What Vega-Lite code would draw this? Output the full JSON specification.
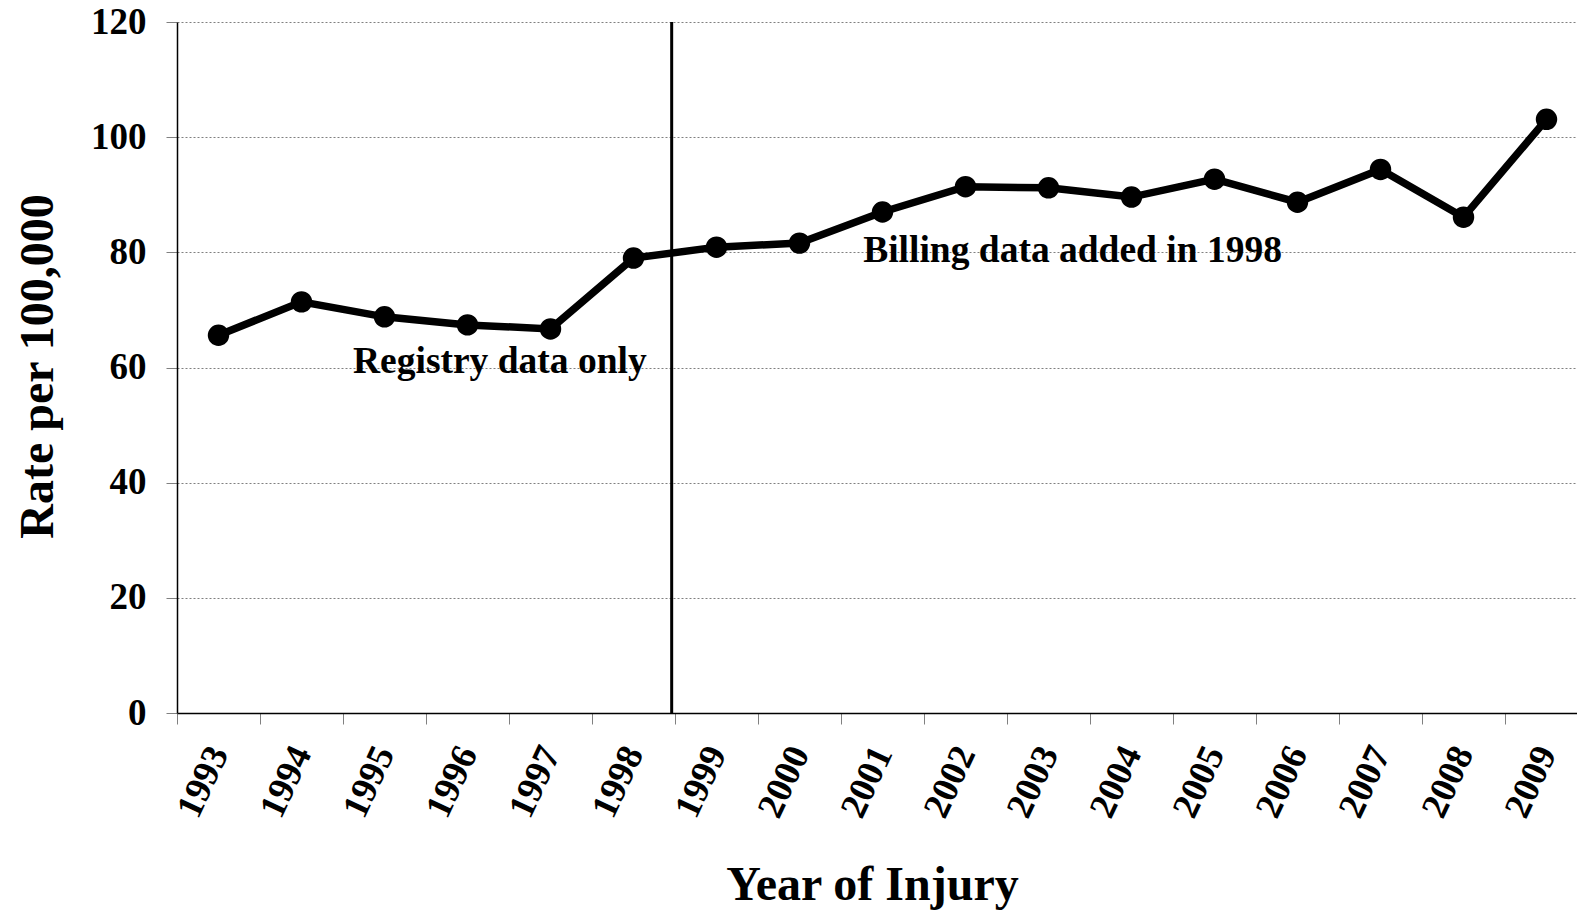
{
  "$schema": "https://vega.github.io/schema/vega-lite/v6.json",
  "width": 1400,
  "height": 691,
  "autosize": "none",
  "padding": {"left": 177, "top": 22, "right": 0, "bottom": 198},
  "background": "white",
  "config": {"view": {"stroke": null}, "font": "Liberation Serif"},
  "datasets": {
    "rates": [
      {"year": 1993, "rate": 65.6},
      {"year": 1994, "rate": 71.4},
      {"year": 1995, "rate": 68.8},
      {"year": 1996, "rate": 67.4},
      {"year": 1997, "rate": 66.7},
      {"year": 1998, "rate": 79.0},
      {"year": 1999, "rate": 80.9},
      {"year": 2000, "rate": 81.6},
      {"year": 2001, "rate": 87.0},
      {"year": 2002, "rate": 91.4},
      {"year": 2003, "rate": 91.2},
      {"year": 2004, "rate": 89.6},
      {"year": 2005, "rate": 92.7},
      {"year": 2006, "rate": 88.7},
      {"year": 2007, "rate": 94.4},
      {"year": 2008, "rate": 86.1},
      {"year": 2009, "rate": 103.1}
    ],
    "divider": [{"year": 1998}],
    "noteLeft": [{"year": 1996, "rate": 59.0, "label": "Registry data only"}],
    "noteRight": [{"year": 2003, "rate": 78.3, "label": "Billing data added in 1998"}]
  },
  "layer": [
    {
      "data": {"name": "rates"},
      "mark": {"type": "line", "color": "black", "strokeWidth": 7.5, "point": {"filled": true, "color": "black", "size": 460, "opacity": 1}},
      "encoding": {
        "x": {
          "field": "year", "type": "ordinal",
          "scale": {"type": "band", "range": [0, 1411], "paddingInner": 0, "paddingOuter": 0},
          "axis": {
            "title": "Year of Injury",
            "titleFont": "Liberation Serif", "titleFontSize": 48, "titleFontWeight": "bold", "titleColor": "black",
            "titleX": 695, "titleY": 186, "titleBaseline": "alphabetic", "titleAnchor": null, "titleAlign": "center",
            "labelAngle": -65, "labelAlign": "right", "labelBaseline": "middle",
            "labelFont": "Liberation Serif", "labelFontSize": 37, "labelFontWeight": "bold", "labelColor": "black",
            "labelPadding": 24, "labelOverlap": false,
            "tickBand": "extent", "tickSize": 11, "tickColor": "#808080", "tickWidth": 1,
            "domainColor": "black", "domainWidth": 1.5, "grid": false
          }
        },
        "y": {
          "field": "rate", "type": "quantitative",
          "scale": {"domain": [0, 120], "nice": false, "zero": true},
          "axis": {
            "title": "Rate per 100,000",
            "titleFont": "Liberation Serif", "titleFontSize": 48, "titleFontWeight": "bold", "titleColor": "black",
            "titleX": -125, "titleY": 344, "titleBaseline": "alphabetic", "titleAngle": 270, "titleAlign": "center",
            "values": [0, 20, 40, 60, 80, 100, 120],
            "labelFont": "Liberation Serif", "labelFontSize": 37, "labelFontWeight": "bold", "labelColor": "black",
            "labelPadding": 20,
            "tickSize": 11, "tickColor": "#808080", "tickWidth": 1,
            "domainColor": "black", "domainWidth": 1.5,
            "grid": true, "gridColor": "#808080", "gridDash": [2, 2], "gridWidth": 1
          }
        }
      }
    },
    {
      "data": {"name": "divider"},
      "mark": {"type": "rule", "color": "black", "strokeWidth": 3},
      "encoding": {
        "x": {"field": "year", "type": "ordinal", "bandPosition": 0.96},
        "y": {"datum": 0},
        "y2": {"datum": 120}
      }
    },
    {
      "data": {"name": "noteLeft"},
      "mark": {"type": "text", "font": "Liberation Serif", "fontSize": 37.5, "fontWeight": "bold", "color": "black", "align": "center", "baseline": "alphabetic"},
      "encoding": {
        "x": {"field": "year", "type": "ordinal", "bandPosition": 0.89},
        "y": {"field": "rate", "type": "quantitative"},
        "text": {"field": "label"}
      }
    },
    {
      "data": {"name": "noteRight"},
      "mark": {"type": "text", "font": "Liberation Serif", "fontSize": 37.5, "fontWeight": "bold", "color": "black", "align": "center", "baseline": "alphabetic"},
      "encoding": {
        "x": {"field": "year", "type": "ordinal", "bandPosition": 0.79},
        "y": {"field": "rate", "type": "quantitative"},
        "text": {"field": "label"}
      }
    }
  ]
}
